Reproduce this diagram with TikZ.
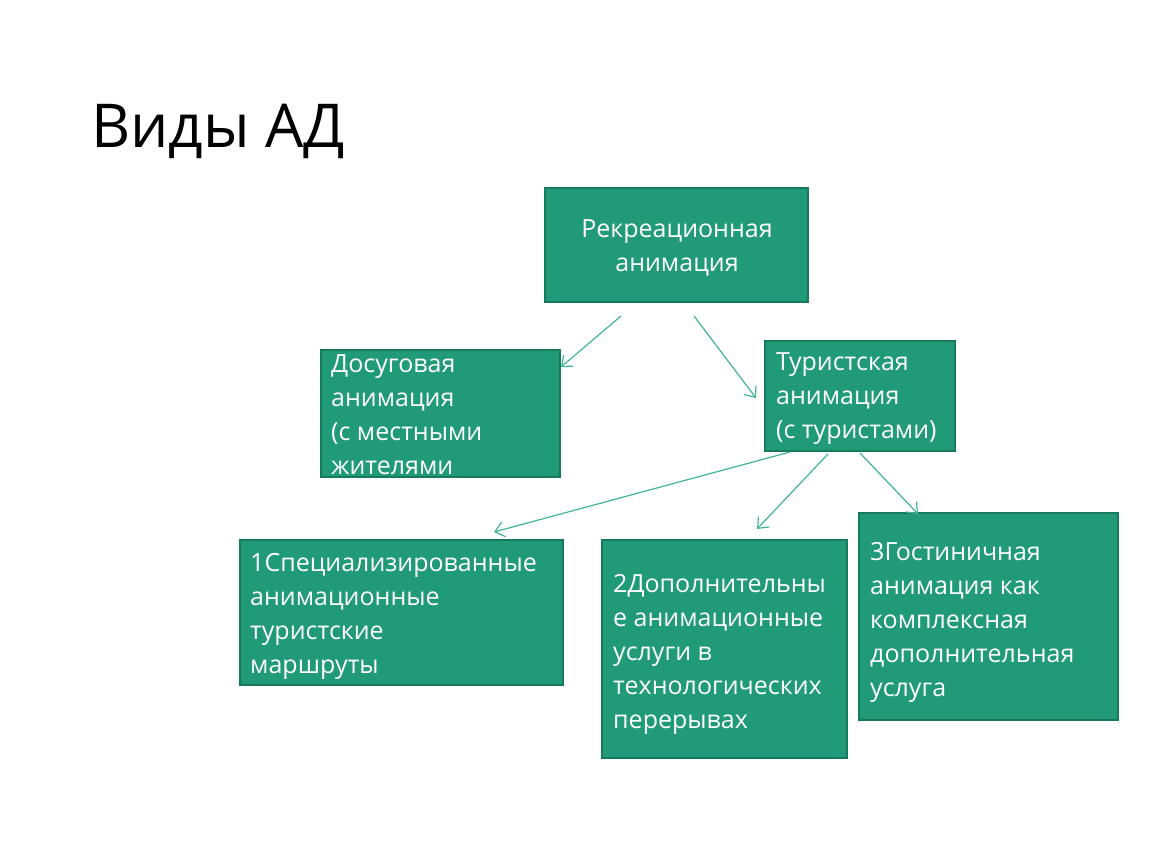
\documentclass[tikz,border=0pt]{standalone}
\usepackage{fontspec}
\setmainfont{Open Sans}
\usetikzlibrary{arrows.meta,calc}
\definecolor{boxfill}{RGB}{32,154,120}
\definecolor{boxline}{RGB}{22,122,92}
\definecolor{arrcol}{RGB}{66,182,142}
\newcommand{\bodyfont}{\fontsize{25}{34}\selectfont}
\newcommand{\mlines}[1]{\vtop{\baselineskip=34pt\lineskiplimit=-100pt #1}}
\newcommand{\cl}[1]{\hbox to 0pt{\hss #1\hss}}
\tikzset{
  box/.style={draw=boxline, line width=2pt, fill=boxfill, inner sep=0pt},
  txt/.style={anchor=base west, inner sep=0pt, text=white, font=\bodyfont},
  arr/.style={draw=arrcol, line width=1.2pt, -{Straight Barb[length=9pt,width=15pt]}},
}
\begin{document}
\begin{tikzpicture}[x=1pt,y=-1pt]
\useasboundingbox (0,0) rectangle (1150,864);
\fill[white] (0,0) rectangle (1150,864);
% title
\node[anchor=base west, inner sep=0pt, font=\fontsize{60.5}{70}\selectfont] (title) at (91,147) {Виды АД};
% boxes
\node[box, minimum width=263pt, minimum height=114pt] (rek) at (676.5,245) {};
\node[box, minimum width=239pt, minimum height=127pt] (dos) at (440.5,413.5) {};
\node[box, minimum width=190pt, minimum height=110pt] (tur) at (860,396) {};
\node[box, minimum width=323pt, minimum height=145pt] (spec) at (401.5,612.5) {};
\node[box, minimum width=245pt, minimum height=218pt] (dop) at (724.5,649) {};
\node[box, minimum width=259pt, minimum height=207pt] (gost) at (988.5,616.5) {};
% texts
\node[txt, anchor=base] (rekt) at (677,237) {\mlines{\cl{Рекреационная}\cl{анимация}}};
\node[txt] (dost) at (331,372) {\mlines{\hbox{Досуговая}\hbox{анимация}\hbox{(с местными}\hbox{жителями}}};
\node[txt] (turt) at (776,370) {\mlines{\hbox{Туристская}\hbox{анимация}\hbox{(с туристами)}}};
\node[txt] (spect) at (250,571) {\mlines{\hbox{1Специализированные}\hbox{анимационные}\hbox{туристские}\hbox{маршруты}}};
\node[txt] (dopt) at (613,592) {\mlines{\hbox{2Дополнительны}\hbox{е анимационные}\hbox{услуги в}\hbox{технологических}\hbox{перерывах}}};
\node[txt] (gostt) at (870,560) {\mlines{\hbox{3Гостиничная}\hbox{анимация как}\hbox{комплексная}\hbox{дополнительная}\hbox{услуга}}};
% arrows
\draw[arr] ($(rek.south)+(-55.5,13)$) -- ($(dos.north east)+(0,18)$);
\draw[arr] ($(rek.south)+(17.5,13)$) -- ($(tur.west)+(-8,2)$);
\draw[arr] ($(tur.south)+(-70,0)$) -- ($(spec.north)+(92.5,-7)$);
\draw[arr] ($(tur.south)+(-32,2)$) -- ($(dop.north)+(32.5,-10)$);
\draw[arr] ($(tur.south)+(0,1)$) -- ($(gost.north)+(-70.5,2)$);
\end{tikzpicture}
\end{document}
